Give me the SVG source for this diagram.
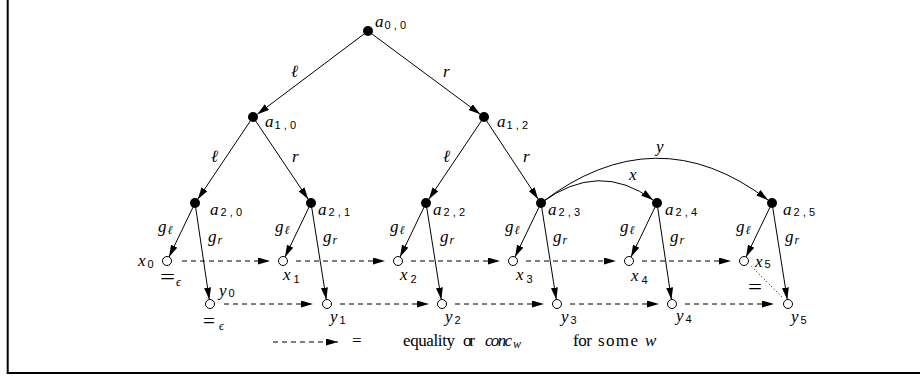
<svg xmlns="http://www.w3.org/2000/svg" width="920" height="376" viewBox="0 0 920 376">
<style>
.fn{fill:#000}
.on{fill:#fff;stroke:#000;stroke-width:1}
.e{fill:none;stroke:#000;stroke-width:1;marker-end:url(#ah)}
.d{fill:none;stroke:#000;stroke-width:1;stroke-dasharray:5 4;marker-end:url(#ah)}
.dot{fill:none;stroke:#000;stroke-width:1;stroke-dasharray:1 2.5}
.sub{font-family:"Liberation Sans",Arial,sans-serif;font-style:normal;font-size:11px}
.lsp{letter-spacing:3.2px}
.up{font-style:normal}
</style>
<defs>
<marker id="ah" markerUnits="userSpaceOnUse" markerWidth="13" markerHeight="8" refX="12" refY="3.5" orient="auto">
<path d="M0,0 L12,3.5 L0,7 z" fill="#000"/>
</marker>
</defs>
<rect width="920" height="376" fill="#fff"/>
<path d="M7.7,-2 V373 H922" fill="none" stroke="#000" stroke-width="2"/>

<g id="connectors">
<path class="e" d="M368,31 L257.3,114.3"/>
<path class="e" d="M368,31 L480.3,114.3"/>
<path class="e" d="M253,117 L197.8,199.2"/>
<path class="e" d="M253,117 L308.2,199.2"/>
<path class="e" d="M484,117 L428.8,199.2"/>
<path class="e" d="M484,117 L538.2,199.2"/>
<path class="e" d="M195,203 L169,257"/>
<path class="e" d="M195,203 L209.3,299.6"/>
<path class="e" d="M311,203 L285,257"/>
<path class="e" d="M311,203 L326.3,299.6"/>
<path class="e" d="M426,203 L400,257"/>
<path class="e" d="M426,203 L441.3,299.6"/>
<path class="e" d="M541,203 L515,257"/>
<path class="e" d="M541,203 L556.3,299.6"/>
<path class="e" d="M657,203 L631,257"/>
<path class="e" d="M657,203 L671.4,299.6"/>
<path class="e" d="M772,203 L746,257"/>
<path class="e" d="M772,203 L787.3,299.6"/>
<path class="e" d="M541,203 Q599,160 653,200"/>
<path class="e" d="M541,203 Q656,115 768,200"/>
<path class="d" d="M182,261 H270"/>
<path class="d" d="M296,261 H385"/>
<path class="d" d="M411,261 H500"/>
<path class="d" d="M526,261 H616"/>
<path class="d" d="M642,261 H731"/>
<path class="d" d="M224,304 H313"/>
<path class="d" d="M340,304 H429"/>
<path class="d" d="M455,304 H544"/>
<path class="d" d="M570,304 H659"/>
<path class="d" d="M685,304 H774"/>
<path class="dot" d="M751.5,266.5 L783.5,298.5"/>
<path class="d" d="M273,342 H338"/>
</g>

<g font-family="Liberation Serif, Times New Roman, serif" font-size="17" font-style="italic" fill="#000">
<g id="edge-labels">
<text x="291" y="77">ℓ</text>
<text x="443" y="77">r</text>
<text x="211" y="162">ℓ</text>
<text x="292" y="162">r</text>
<text x="443" y="162">ℓ</text>
<text x="523" y="162">r</text>
<text x="629" y="180">x</text>
<text x="656" y="152">y</text>
<text x="158" y="232">g<tspan font-size="12" dx="1" dy="2">ℓ</tspan></text>
<text x="208" y="242">g<tspan font-size="12" dx="1" dy="2">r</tspan></text>
<text x="275" y="232">g<tspan font-size="12" dx="1" dy="2">ℓ</tspan></text>
<text x="323" y="242">g<tspan font-size="12" dx="1" dy="2">r</tspan></text>
<text x="390" y="232">g<tspan font-size="12" dx="1" dy="2">ℓ</tspan></text>
<text x="440" y="242">g<tspan font-size="12" dx="1" dy="2">r</tspan></text>
<text x="505" y="232">g<tspan font-size="12" dx="1" dy="2">ℓ</tspan></text>
<text x="553" y="242">g<tspan font-size="12" dx="1" dy="2">r</tspan></text>
<text x="620" y="232">g<tspan font-size="12" dx="1" dy="2">ℓ</tspan></text>
<text x="670" y="242">g<tspan font-size="12" dx="1" dy="2">r</tspan></text>
<text x="736" y="232">g<tspan font-size="12" dx="1" dy="2">ℓ</tspan></text>
<text x="785" y="242">g<tspan font-size="12" dx="1" dy="2">r</tspan></text>
</g>

<g id="a00"><circle class="fn" cx="368" cy="31" r="5"/><text x="375" y="27">a<tspan class="sub lsp" dx="1" dy="1.5">0,0</tspan></text></g>
<g id="a10"><circle class="fn" cx="253" cy="117" r="5"/><text x="265" y="127">a<tspan class="sub lsp" dx="1" dy="1.5">1,0</tspan></text></g>
<g id="a12"><circle class="fn" cx="484" cy="117" r="5"/><text x="497" y="127">a<tspan class="sub lsp" dx="1" dy="1.5">1,2</tspan></text></g>
<g id="a20"><circle class="fn" cx="195" cy="203" r="5"/><text x="210" y="215">a<tspan class="sub lsp" dx="2" dy="1">2,0</tspan></text></g>
<g id="a21"><circle class="fn" cx="311" cy="203" r="5"/><text x="318" y="215">a<tspan class="sub lsp" dx="2" dy="1">2,1</tspan></text></g>
<g id="a22"><circle class="fn" cx="426" cy="203" r="5"/><text x="433" y="215">a<tspan class="sub lsp" dx="2" dy="1">2,2</tspan></text></g>
<g id="a23"><circle class="fn" cx="541" cy="203" r="5"/><text x="548" y="215">a<tspan class="sub lsp" dx="2" dy="1">2,3</tspan></text></g>
<g id="a24"><circle class="fn" cx="657" cy="203" r="5"/><text x="665" y="215">a<tspan class="sub lsp" dx="2" dy="1">2,4</tspan></text></g>
<g id="a25"><circle class="fn" cx="772" cy="203" r="5"/><text x="783" y="215">a<tspan class="sub lsp" dx="2" dy="1">2,5</tspan></text></g>

<g id="x0"><circle class="on" cx="167" cy="261" r="4.5"/><text x="138" y="266">x<tspan class="sub" dx="2" dy="2">0</tspan></text><text class="up" x="160" y="284" font-size="20" textLength="15" lengthAdjust="spacingAndGlyphs">=</text><text x="176" y="286" font-size="12">ϵ</text></g>
<g id="x1"><circle class="on" cx="283" cy="261" r="4.5"/><text x="283" y="280">x<tspan class="sub" dx="3" dy="2.5">1</tspan></text></g>
<g id="x2"><circle class="on" cx="398" cy="261" r="4.5"/><text x="400" y="280">x<tspan class="sub" dx="3" dy="2.5">2</tspan></text></g>
<g id="x3"><circle class="on" cx="513" cy="261" r="4.5"/><text x="516" y="280">x<tspan class="sub" dx="3" dy="2.5">3</tspan></text></g>
<g id="x4"><circle class="on" cx="629" cy="261" r="4.5"/><text x="631" y="281">x<tspan class="sub" dx="3" dy="2.5">4</tspan></text></g>
<g id="x5"><circle class="on" cx="744" cy="261" r="4.5"/><text x="755" y="267">x<tspan class="sub" dx="2" dy="1">5</tspan></text><text class="up" x="748" y="294" font-size="20" textLength="14" lengthAdjust="spacingAndGlyphs">=</text></g>

<g id="y0"><circle class="on" cx="210" cy="304" r="4.5"/><text x="219" y="296">y<tspan class="sub" dx="2" dy="1">0</tspan></text><text class="up" x="203" y="328" font-size="20" textLength="12" lengthAdjust="spacingAndGlyphs">=</text><text x="219" y="330" font-size="12">ϵ</text></g>
<g id="y1"><circle class="on" cx="327" cy="304" r="4.5"/><text x="330" y="322">y<tspan class="sub" dx="2" dy="2">1</tspan></text></g>
<g id="y2"><circle class="on" cx="442" cy="304" r="4.5"/><text x="445" y="322">y<tspan class="sub" dx="2" dy="2">2</tspan></text></g>
<g id="y3"><circle class="on" cx="557" cy="304" r="4.5"/><text x="561" y="322">y<tspan class="sub" dx="2" dy="2">3</tspan></text></g>
<g id="y4"><circle class="on" cx="672" cy="304" r="4.5"/><text x="676" y="321">y<tspan class="sub" dx="2" dy="2">4</tspan></text></g>
<g id="y5"><circle class="on" cx="788" cy="304" r="4.5"/><text x="791" y="322">y<tspan class="sub" dx="2" dy="2">5</tspan></text></g>

<g id="legend">
<text class="up" x="352" y="346">=</text>
<text class="up" x="403" y="346" textLength="52" lengthAdjust="spacing">equality</text>
<text class="up" x="463" y="346" textLength="12" lengthAdjust="spacing">or</text>
<text x="485" y="346" textLength="27" lengthAdjust="spacing">conc</text>
<text x="513" y="348" font-size="12">w</text>
<text class="up" x="573" y="346" textLength="19" lengthAdjust="spacing">for</text>
<text class="up" x="598" y="346" textLength="40" lengthAdjust="spacing">some</text>
<text x="645" y="346">w</text>
</g>
</g>
</svg>
